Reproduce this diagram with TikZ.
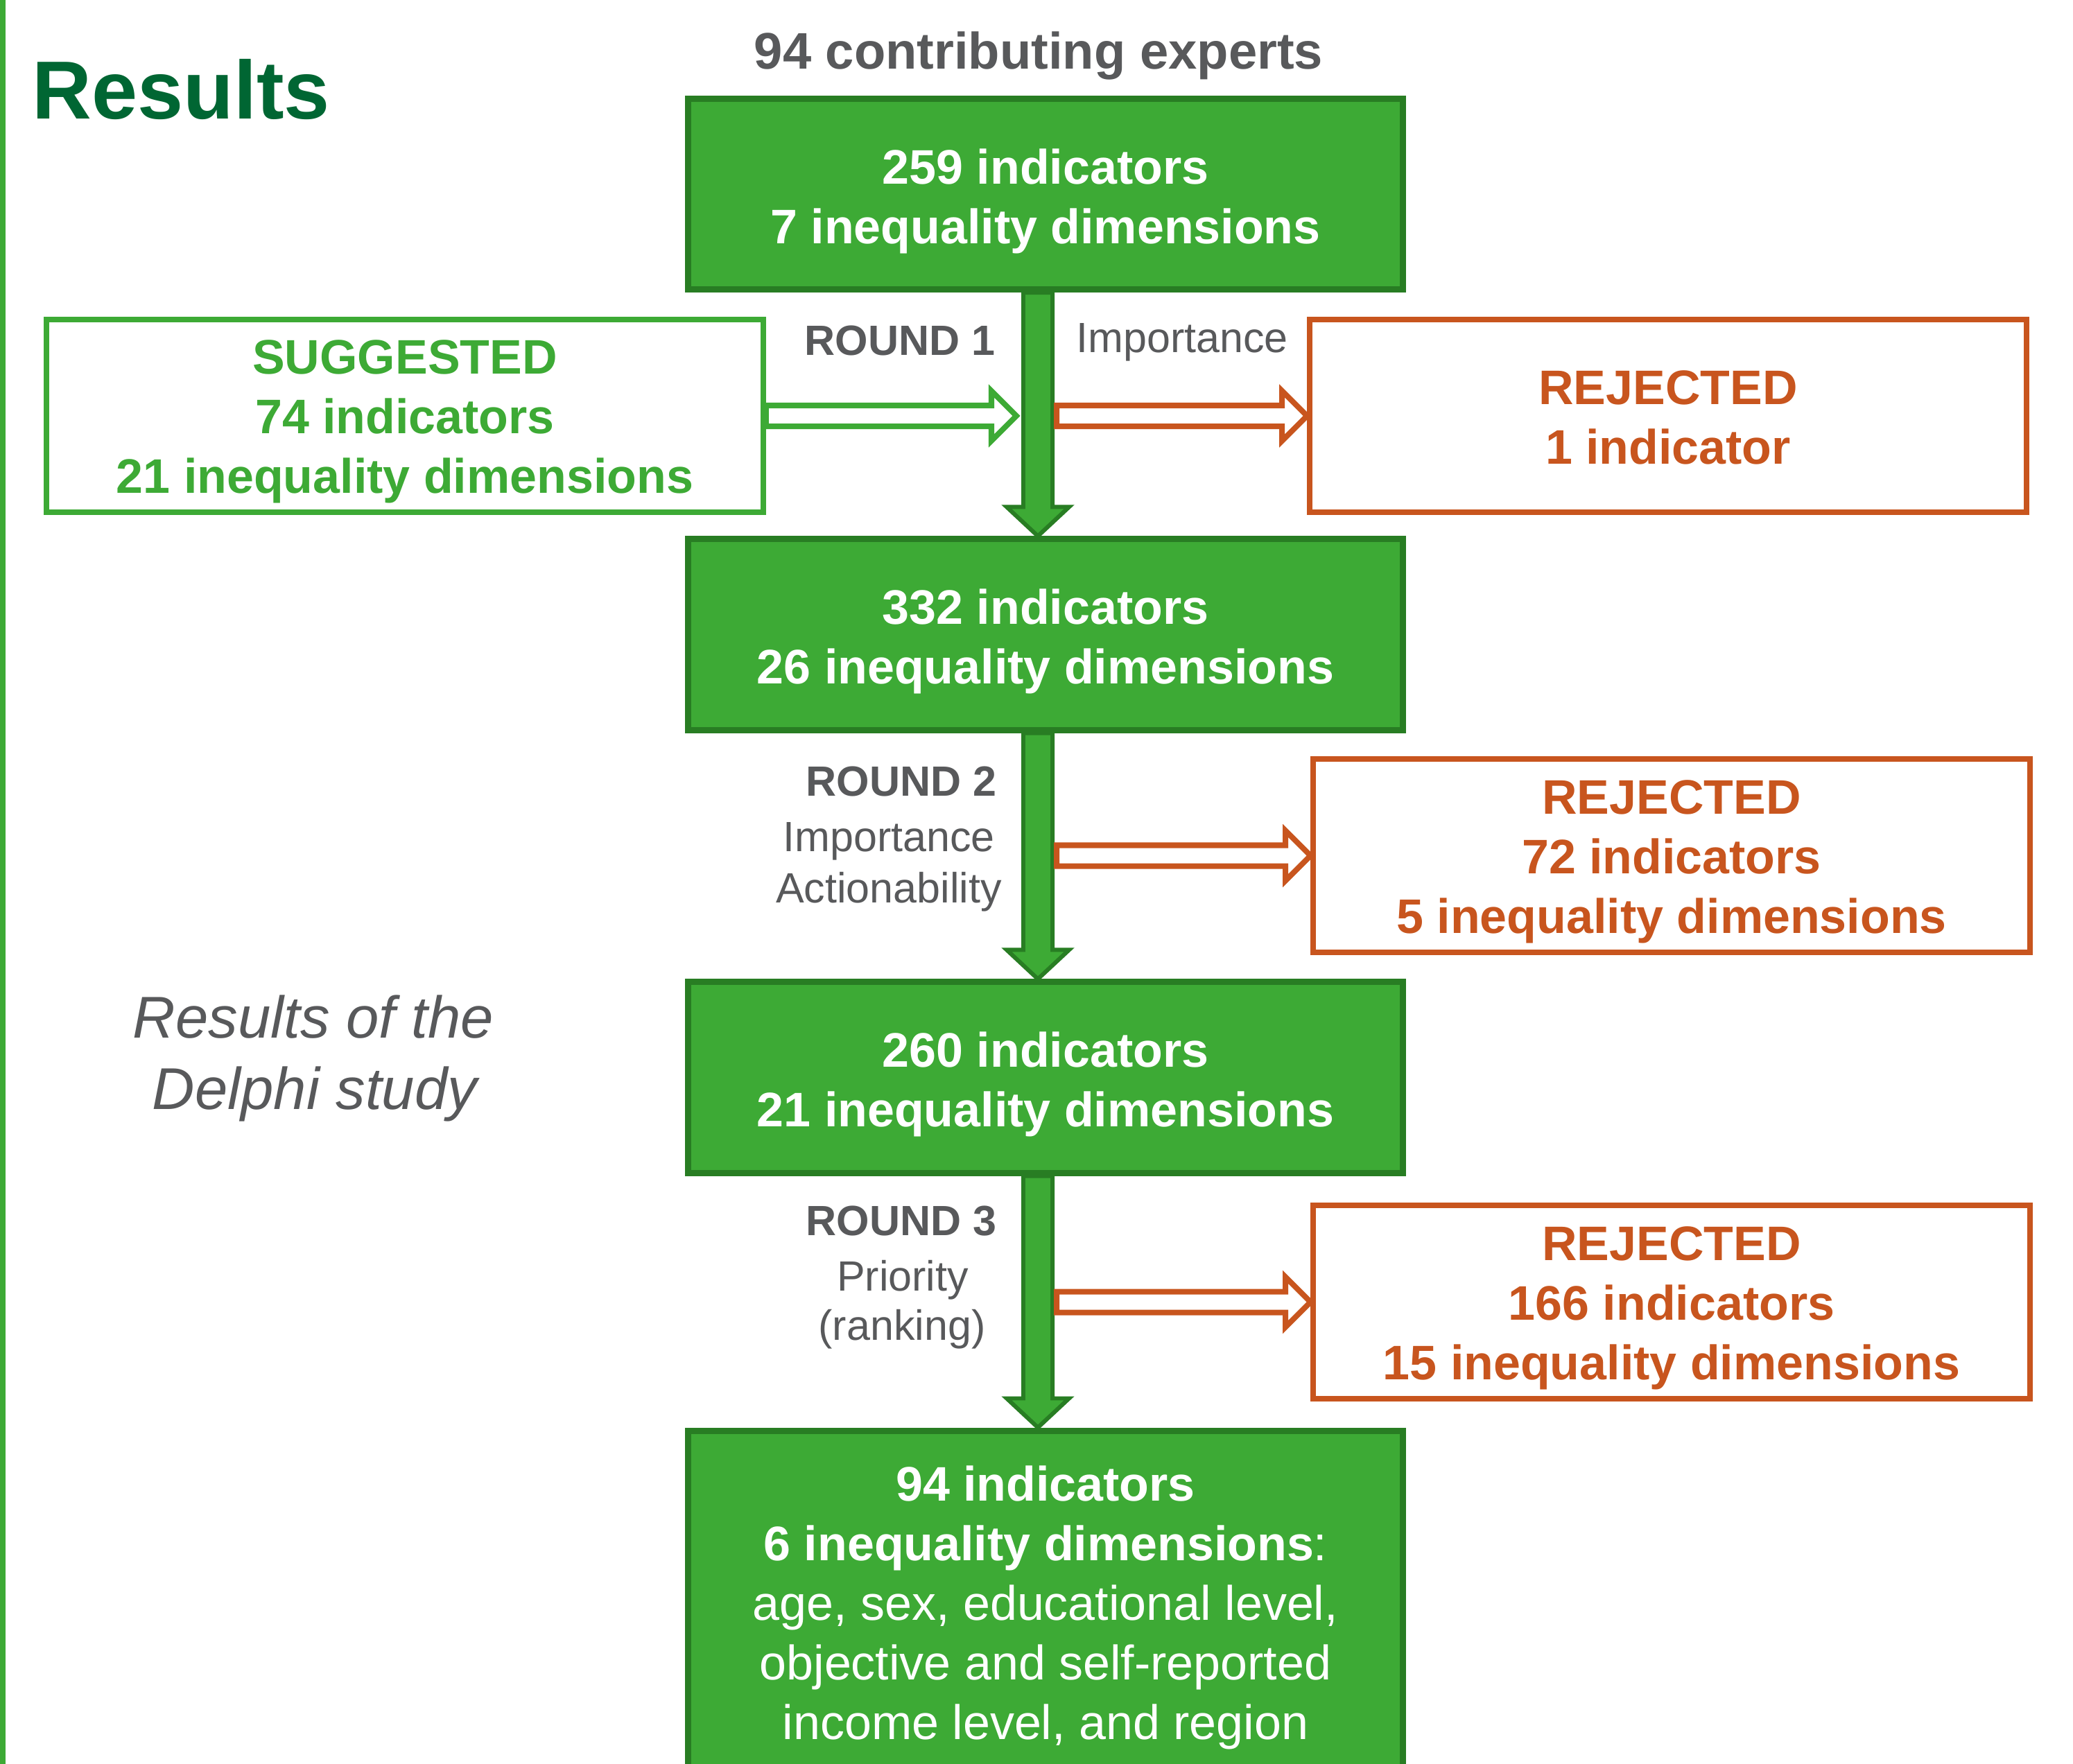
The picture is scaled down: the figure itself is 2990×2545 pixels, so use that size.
\documentclass[tikz,border=0pt]{standalone}
\usepackage{fontspec}
\setmainfont{Liberation Sans}
\usetikzlibrary{calc,backgrounds}
\definecolor{gfill}{RGB}{61,170,53}
\definecolor{gdark}{RGB}{40,125,35}
\definecolor{orng}{RGB}{200,85,30}
\definecolor{gtext}{RGB}{88,89,91}
\definecolor{ttlgreen}{RGB}{0,102,51}
% hollow arrow geometry
\newcommand\hs{0.15cm}
\newcommand\hh{0.36cm}
\newcommand\hl{0.36cm}
% big arrow geometry
\newcommand\bs{0.21cm}
\newcommand\bh{0.45cm}
\newcommand\bl{0.42cm}
\newcommand\dn[1]{\rule{0pt}{#1}}
\newcommand\harr[3]{\draw[#1] let \p1=(#2), \p2=(#3) in
  (\x1,{\y1+\hs}) -- ({\x2-\hl},{\y1+\hs}) -- ({\x2-\hl},{\y1+\hh}) -- (\x2,\y1)
  -- ({\x2-\hl},{\y1-\hh}) -- ({\x2-\hl},{\y1-\hs}) -- (\x1,{\y1-\hs}) -- cycle;}
\newcommand\bigarr[2]{\draw[bigarrow] let \p1=(#1.south -| ax), \p2=(#2.north -| ax) in
  ({\x1-\bs},\y1) -- ({\x1-\bs},{\y2+\bl}) -- ({\x1-\bh},{\y2+\bl}) -- (\x2,\y2)
  -- ({\x1+\bh},{\y2+\bl}) -- ({\x1+\bs},{\y2+\bl}) -- ({\x1+\bs},\y1) -- cycle;}
\begin{document}
\begin{tikzpicture}[x=0.01cm,y=-0.01cm,
  boxtxt/.style={font=\fontsize{19.9pt}{24.5pt}\selectfont\bfseries, align=center},
  gbox/.style={boxtxt, draw=gdark, fill=gfill, line width=2.56pt, text=white,
    minimum width=10.31cm, minimum height=2.75cm, inner sep=0},
  sbox/.style={boxtxt, draw=gfill, fill=white, line width=2.28pt, text=gfill,
    minimum width=10.33cm, minimum height=2.78cm, inner sep=0},
  rbox/.style={boxtxt, draw=orng, fill=white, line width=2.28pt, text=orng,
    minimum width=10.33cm, minimum height=2.78cm, inner sep=0},
  rlabel/.style={font=\fontsize{17.35pt}{21pt}\selectfont, text=gtext, inner sep=0, anchor=base},
  bigarrow/.style={fill=gfill, draw=gdark, line width=1.7pt, line join=miter},
  harrowg/.style={draw=gfill, line width=2.28pt, fill=white, line join=miter},
  harrowr/.style={draw=orng, line width=2.28pt, fill=white, line join=miter}]

\useasboundingbox (0,0) rectangle (2990,2545);

% titles
\node[anchor=base west, inner sep=0, text=ttlgreen,
  font=\fontsize{33.8pt}{40pt}\selectfont\bfseries] (title) at (46,171) {Results};
\node[anchor=base, inner sep=0, text=gtext,
  font=\fontsize{21.1pt}{25pt}\selectfont\bfseries] (experts) at (1498,100) {94 contributing experts};
\node[anchor=base, inner sep=0, text=gtext,
  font=\fontsize{24.2pt}{29pt}\selectfont\itshape] (delphiA) at (452,1497) {Results of the};
\node[anchor=base, inner sep=0, text=gtext,
  font=\fontsize{24.2pt}{29pt}\selectfont\itshape] (delphiB) at (454,1600) {Delphi study};

% main boxes
\node[gbox] (b1) at (1508,280) {\dn{0.71cm}259 indicators\\7 inequality dimensions};
\node[gbox] (b2) at (1508,915.5) {\dn{0.71cm}332 indicators\\26 inequality dimensions};
\node[gbox] (b3) at (1508,1554.5) {\dn{0.71cm}260 indicators\\21 inequality dimensions};
\node[gbox, anchor=north, minimum height=5.6cm] (b4) at (1508,2059.5) {};
\node[gbox, draw=none, fill=none, minimum width=0pt, minimum height=0pt,
  anchor=north, font=\fontsize{19.9pt}{24.47pt}\selectfont] (b4t) at (1508,2110)
  {\textbf{94 indicators}\\\textbf{6 inequality dimensions}:\\age, sex, educational level,\\objective and self-reported\\income level, and region};

% side boxes
\node[sbox] (sug) at (584,600) {\dn{0.66cm}SUGGESTED\\74 indicators\\21 inequality dimensions};
\node[rbox] (rej1) at (2406,600) {\dn{0.54cm}REJECTED\\1 indicator};
\node[rbox] (rej2) at (2411,1234.5) {\dn{0.66cm}REJECTED\\72 indicators\\5 inequality dimensions};
\node[rbox] (rej3) at (2411,1878.5) {\dn{0.66cm}REJECTED\\166 indicators\\15 inequality dimensions};

% round labels
\node[rlabel, font=\fontsize{17.35pt}{21pt}\selectfont\bfseries] (r1) at (1298,512) {ROUND 1};
\node[rlabel] (r1a) at (1705,508) {Importance};
\node[rlabel, font=\fontsize{17.35pt}{21pt}\selectfont\bfseries] (r2) at (1300,1148) {ROUND 2};
\node[rlabel] (r2a) at (1282,1228) {Importance};
\node[rlabel] (r2b) at (1282,1302) {Actionability};
\node[rlabel, font=\fontsize{17.35pt}{21pt}\selectfont\bfseries] (r3) at (1300,1782) {ROUND 3};
\node[rlabel] (r3a) at (1302,1862) {Priority};
\node[rlabel] (r3b) at (1301,1933) {(ranking)};

% connector anchors
\coordinate (ax) at (1497,0);
\coordinate (shaftL) at (1466,0);
\coordinate (shaftR) at (1524,0);

% background, left stripe and big down arrows behind boxes
\begin{scope}[on background layer]
\fill[white] (0,0) rectangle (2990,2545);
\fill[gfill] (0,0) rectangle (8,2545);
\bigarr{b1}{b2}
\bigarr{b2}{b3}
\bigarr{b3}{b4}
\end{scope}

% hollow side arrows
\harr{harrowg}{sug.east}{sug.east -| shaftL}
\harr{harrowr}{rej1.west -| shaftR}{rej1.west}
\harr{harrowr}{rej2.west -| shaftR}{rej2.west}
\harr{harrowr}{rej3.west -| shaftR}{rej3.west}
\end{tikzpicture}
\end{document}
